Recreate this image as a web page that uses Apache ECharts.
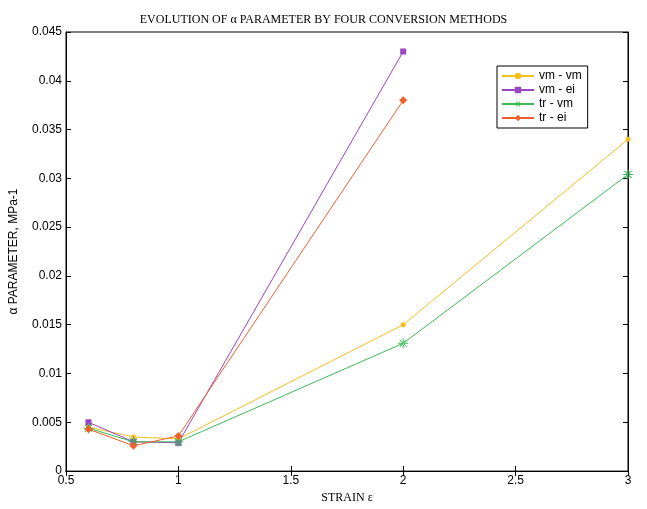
<!DOCTYPE html>
<html>
<head>
<meta charset="utf-8">
<script src="https://cdn.jsdelivr.net/npm/echarts@6/dist/echarts.min.js"></script>
<style>
  html, body { margin: 0; padding: 0; background: #fff; }
  #chart { width: 647px; height: 509px; }
</style>
</head>
<body>
<div id="chart"></div>
<script>
// strain values (x)
var strain = [0.6, 0.8, 1, 2, 3];

// alpha parameter, one array per conversion method
var vmVm = [0.0045, 0.0035, 0.0033, 0.015, 0.034];
var vmEi = [0.005, 0.003, 0.0029, 0.043];
var trVm = [0.0044, 0.003, 0.003, 0.0131, 0.0304];
var trEi = [0.0043, 0.0026, 0.0036, 0.038];

var seriesNames = ['vm - vm', 'vm - ei', 'tr - vm', 'tr - ei'];
var yTicks = [0, 0.005, 0.01, 0.015, 0.02, 0.025, 0.03, 0.035, 0.04, 0.045];

function pairs(ys) {
    return ys.map(function (y, i) { return [strain[i], y]; });
}

// asterisk marker made of four thin bars
var asterisk = 'path://M-1,-10h2v20h-2z M-10,-1h20v2h-20z ' +
    'M-7.7,-6.3L6.3,7.7L7.7,6.3L-6.3,-7.7z M-6.3,7.7L7.7,-6.3L6.3,-7.7L-7.7,6.3z';

var myChart = echarts.init(document.getElementById('chart'));

var option = {
    backgroundColor: '#fff',
    animation: false,
    title: {
        text: 'EVOLUTION OF α PARAMETER BY FOUR CONVERSION METHODS',
        left: 'center',
        top: 9,
        textStyle: { fontFamily: 'Liberation Serif', fontWeight: 'normal', fontSize: 12, color: '#000' }
    },
    legend: {
        data: seriesNames,
        orient: 'vertical',
        left: 497,
        top: 66,
        width: 86,
        padding: [4, 6, 4, 4],
        itemGap: 2,
        itemWidth: 32,
        itemHeight: 8,
        borderColor: '#000',
        borderWidth: 1,
        backgroundColor: '#fff',
        textStyle: { fontFamily: 'Liberation Sans', fontSize: 12, color: '#000' }
    },
    grid: {
        left: 63, right: 19, top: 32, bottom: 33,
        show: true, borderColor: '#000', borderWidth: 1
    },
    xAxis: [{
        type: 'value',
        min: 0.5, max: 3, interval: 0.5,
        name: 'STRAIN ε',
        nameLocation: 'middle',
        nameGap: 16,
        nameTextStyle: { fontFamily: 'Liberation Serif', fontSize: 12, color: '#000' },
        axisLine: { lineStyle: { color: '#000' } },
        axisTick: { inside: true, length: 5, lineStyle: { color: '#000' } },
        axisLabel: { color: '#000', fontFamily: 'Liberation Sans', fontSize: 12, margin: 4 },
        splitLine: { show: false }
    }, {
        type: 'value', position: 'top',
        min: 0.5, max: 3, interval: 0.5,
        axisLine: { lineStyle: { color: '#000' } },
        axisTick: { inside: true, length: 5, lineStyle: { color: '#000' } },
        axisLabel: { show: false },
        splitLine: { show: false }
    }],
    yAxis: [{
        type: 'value',
        min: 0, max: 0.045, interval: 0.005,
        name: 'α PARAMETER, MPa-1',
        nameLocation: 'middle',
        nameGap: 46,
        nameTextStyle: { fontFamily: 'Liberation Sans', fontSize: 12, color: '#000' },
        axisLine: { lineStyle: { color: '#000' } },
        axisTick: { inside: true, length: 5, lineStyle: { color: '#000' } },
        axisLabel: {
            color: '#000', fontFamily: 'Liberation Sans', fontSize: 12, margin: 4,
            formatter: function (v) { return String(+v.toFixed(3)); }
        },
        splitLine: { show: false }
    }, {
        type: 'value', position: 'right',
        min: 0, max: 0.045, interval: 0.005,
        axisLine: { lineStyle: { color: '#000' } },
        axisTick: { inside: true, length: 5, lineStyle: { color: '#000' } },
        axisLabel: { show: false },
        splitLine: { show: false }
    }],
    series: [{
        name: seriesNames[0], type: 'line', data: pairs(vmVm),
        symbol: 'circle', symbolSize: 5,
        itemStyle: { color: '#f2c01e' }, lineStyle: { width: 1, color: '#f2c01e' }
    }, {
        name: seriesNames[1], type: 'line', data: pairs(vmEi),
        symbol: 'rect', symbolSize: 6,
        itemStyle: { color: '#9a45c2' }, lineStyle: { width: 1, color: '#9a45c2' }
    }, {
        name: seriesNames[2], type: 'line', data: pairs(trVm),
        symbol: asterisk, symbolSize: 10,
        itemStyle: { color: '#3cba58' }, lineStyle: { width: 1, color: '#3cba58' }
    }, {
        name: seriesNames[3], type: 'line', data: pairs(trEi),
        symbol: 'diamond', symbolSize: 8,
        itemStyle: { color: '#f0602a' }, lineStyle: { width: 1, color: '#f0602a' }
    }]
};

myChart.setOption(option);
</script>
</body>
</html>
